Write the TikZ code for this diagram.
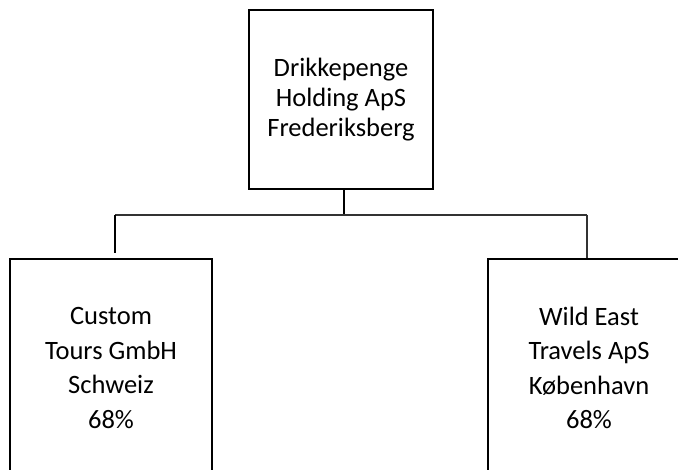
\documentclass[tikz,border=0pt]{standalone}
\usepackage{fontspec}
\setmainfont{Carlito}
\begin{document}
\begin{tikzpicture}[x=1pt,y=-1pt,
  orgbox/.style={draw=black,line width=2.8pt,align=center,inner sep=0pt,font=\fontsize{26.5}{30}\selectfont},
  subbox/.style={orgbox,minimum width=202pt,minimum height=218pt,font=\fontsize{26.5}{34.5}\selectfont},
  thickline/.style={line width=2.6pt,black},
  thinline/.style={line width=1.2pt,black!80}]
\useasboundingbox (0,0) rectangle (678,470);
\clip (0,0) rectangle (678,470);
\node[orgbox,minimum width=184pt,minimum height=179pt] (top) at (341,99.5)
  {Drikkepenge\\Holding ApS\\Frederiksberg};
\node[subbox] (left) at (111,368) {Custom\\Tours GmbH\\Schweiz\\68\%};
\node[subbox] (right) at (589,368) {Wild East\\Travels ApS\\København\\68\%};
\coordinate (j) at (344,215);
\coordinate (jl) at (115,215);
\coordinate (jr) at (587,215);
\coordinate (le) at (115,253);
\draw[thickline] (top.south -| j) -- (j);
\draw[thinline] (jl) -- (jr);
\draw[thickline] (jl) -- (le);
\draw[thinline] (jr) -- (jr |- right.north);
\end{tikzpicture}
\end{document}
